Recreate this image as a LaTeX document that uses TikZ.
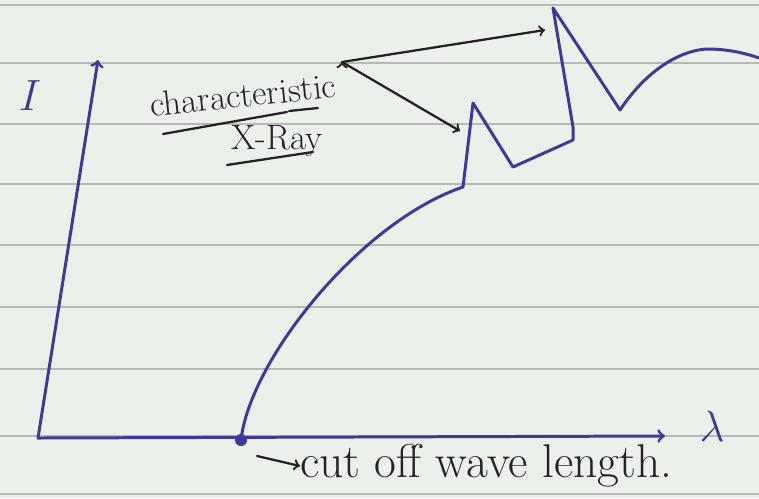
\documentclass[tikz,border=0pt]{standalone}
\usetikzlibrary{arrows,positioning}
\definecolor{paper}{RGB}{236,240,235}
\definecolor{inkblue}{RGB}{62,58,150}
\definecolor{inkblack}{RGB}{40,32,38}

\begin{document}
\begin{tikzpicture}
[x=0.02cm, y=-0.02cm, font=\fontsize{20}{24}\selectfont,
% STYLES
% The ink style is used for the blue pen strokes (axes and spectrum)
ink/.style={draw=inkblue, line width=1.7pt, line cap=round, line join=round},
% The pencil style is used for the black notes and their arrows
pencil/.style={draw=inkblack, line width=1.3pt, line cap=round},
% The rule style is used for the printed lines of the paper
rule/.style={draw=black!28, line width=0.8pt},
% The note style is used for the written words
note/.style={text=inkblack, inner sep=0pt}]

% Paper
\fill[paper] (0,0) rectangle (759,498);
\useasboundingbox (0,0) rectangle (759,498);
\foreach \y in {5,63,124,184,245,307,369,436,494}
  \draw[rule] (0,\y) -- (759,\y);

% Axes
\coordinate (origin) at (38,438);
\coordinate (ytip) at (98,60);
\coordinate (xtip) at (665,436);
\draw[ink,->] (origin) -- (ytip);
\draw[ink,->] (origin) -- (xtip);
\node[text=inkblue, font=\fontsize{26}{30}\selectfont] (ilabel) at (30,96) {$I$};
\node[text=inkblue, font=\fontsize{24}{28}\selectfont] (lambda) at (712,426) {$\lambda$};

%%%%%%%%%%%%%%%
% Spectrum

\node[circle, fill=inkblue, inner sep=0pt, minimum size=0.24cm] (cutoff) at (241,440) {};
\coordinate (kalpha) at (473,103);
\coordinate (kbeta) at (553,8);

\draw[ink] (cutoff.center) .. controls (250,360) and (360,222) .. (463,187)
  -- (kalpha) -- (513,167) -- (573,140) -- (573,127) -- (kbeta) -- (620,110)
  .. controls (650,65) and (685,50) .. (707,49) .. controls (730,49) and (750,54) .. (770,62);

%%%%%%%%%%%%%%%
% Notes

% characteristic X-Ray
\node[note, rotate=6] (charac) at (243,95) {characteristic};
\node[note] (xray) at (277,141) {X-Ray};
\draw[pencil] (163,134) -- (287,112);
\draw[pencil] (289,111) -- (318,108);
\draw[pencil] (227,165) -- (313,152);

\coordinate (fork) at (342,62);
\coordinate (tipb) at (545,30);
\coordinate (tipa) at (460,131);
\path[pencil,->]
(fork) edge (tipb)
(fork) edge (tipa);

% cut off wave length
\node[note, font=\fontsize{27}{32}\selectfont, anchor=west] (cutlabel) at (300,466) {cut off wave length.};
\coordinate (cutstart) at (257,456);
\draw[pencil,->] (cutstart) -- (cutlabel.west);

\end{tikzpicture}
\end{document}
